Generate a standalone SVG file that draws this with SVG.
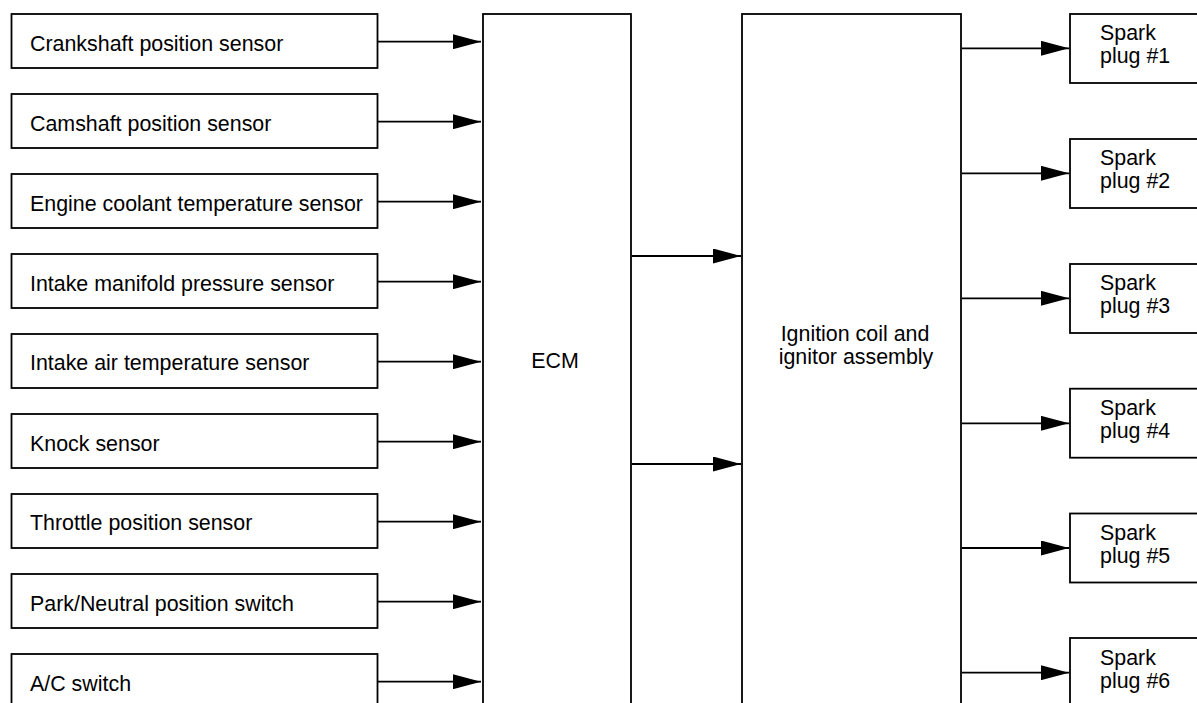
<svg xmlns="http://www.w3.org/2000/svg" width="1197" height="703" viewBox="0 0 1197 703">
<style>
  .box { fill: #fff; stroke: #000; stroke-width: 1.8; }
  .lbl { font-family: "Liberation Sans", Arial, sans-serif; font-size: 21.4px; fill: #000; }
  .mid { text-anchor: middle; }
  .wire { stroke: #000; stroke-width: 1.8; fill: none; marker-end: url(#ah); }
</style>
<defs>
  <marker id="ah" viewBox="0 0 28 15" refX="28" refY="7.5" markerWidth="28" markerHeight="15" markerUnits="userSpaceOnUse" orient="auto">
    <path d="M0,0 L28,7.5 L0,15 z" fill="#000"/>
  </marker>
</defs>
<rect width="1197" height="703" fill="#fff"/>

<g id="sensor1"><rect class="box" x="11.5" y="14" width="366" height="54"/><text class="lbl" x="30" y="51">Crankshaft position sensor</text></g>
<g id="sensor2"><rect class="box" x="11.5" y="94" width="366" height="54"/><text class="lbl" x="30" y="131">Camshaft position sensor</text></g>
<g id="sensor3"><rect class="box" x="11.5" y="174" width="366" height="54"/><text class="lbl" x="30" y="211">Engine coolant temperature sensor</text></g>
<g id="sensor4"><rect class="box" x="11.5" y="254" width="366" height="54"/><text class="lbl" x="30" y="290.5">Intake manifold pressure sensor</text></g>
<g id="sensor5"><rect class="box" x="11.5" y="334" width="366" height="54"/><text class="lbl" x="30" y="370">Intake air temperature sensor</text></g>
<g id="sensor6"><rect class="box" x="11.5" y="414" width="366" height="54"/><text class="lbl" x="30" y="450.5">Knock sensor</text></g>
<g id="sensor7"><rect class="box" x="11.5" y="494" width="366" height="54"/><text class="lbl" x="30" y="530">Throttle position sensor</text></g>
<g id="sensor8"><rect class="box" x="11.5" y="574" width="366" height="54"/><text class="lbl" x="30" y="610.5">Park/Neutral position switch</text></g>
<g id="sensor9"><rect class="box" x="11.5" y="654" width="366" height="54"/><text class="lbl" x="30" y="690.5">A/C switch</text></g>

<g id="ecm"><rect class="box" x="483" y="14" width="148" height="720"/><text class="lbl mid" x="555" y="368">ECM</text></g>

<g id="ignition"><rect class="box" x="742" y="14" width="219" height="720"/>
  <text class="lbl mid" x="855" y="340.5">Ignition coil and</text>
  <text class="lbl mid" x="856" y="364">ignitor assembly</text></g>

<g id="plug1"><rect class="box" x="1070" y="14" width="140" height="69"/><text class="lbl" x="1100" y="40">Spark</text><text class="lbl" x="1100" y="63.3">plug #1</text></g>
<g id="plug2"><rect class="box" x="1070" y="139" width="140" height="69"/><text class="lbl" x="1100" y="165">Spark</text><text class="lbl" x="1100" y="188.3">plug #2</text></g>
<g id="plug3"><rect class="box" x="1070" y="264" width="140" height="69"/><text class="lbl" x="1100" y="289.5">Spark</text><text class="lbl" x="1100" y="312.5">plug #3</text></g>
<g id="plug4"><rect class="box" x="1070" y="388.7" width="140" height="69"/><text class="lbl" x="1100" y="414.5">Spark</text><text class="lbl" x="1100" y="437.5">plug #4</text></g>
<g id="plug5"><rect class="box" x="1070" y="513.5" width="140" height="69"/><text class="lbl" x="1100" y="539.5">Spark</text><text class="lbl" x="1100" y="562.5">plug #5</text></g>
<g id="plug6"><rect class="box" x="1070" y="638" width="140" height="69"/><text class="lbl" x="1100" y="665">Spark</text><text class="lbl" x="1100" y="688">plug #6</text></g>

<g id="connectors">
  <line class="wire" x1="378" y1="41.7" x2="481" y2="41.7"/>
  <line class="wire" x1="378" y1="121.7" x2="481" y2="121.7"/>
  <line class="wire" x1="378" y1="201.7" x2="481" y2="201.7"/>
  <line class="wire" x1="378" y1="281.7" x2="481" y2="281.7"/>
  <line class="wire" x1="378" y1="361.7" x2="481" y2="361.7"/>
  <line class="wire" x1="378" y1="441.7" x2="481" y2="441.7"/>
  <line class="wire" x1="378" y1="521.7" x2="481" y2="521.7"/>
  <line class="wire" x1="378" y1="601.7" x2="481" y2="601.7"/>
  <line class="wire" x1="378" y1="681.7" x2="481" y2="681.7"/>
  <line class="wire" x1="632" y1="256" x2="741" y2="256"/>
  <line class="wire" x1="632" y1="464" x2="741" y2="464"/>
  <line class="wire" x1="962" y1="48.3" x2="1069" y2="48.3"/>
  <line class="wire" x1="962" y1="173.3" x2="1069" y2="173.3"/>
  <line class="wire" x1="962" y1="298.3" x2="1069" y2="298.3"/>
  <line class="wire" x1="962" y1="423.3" x2="1069" y2="423.3"/>
  <line class="wire" x1="962" y1="548" x2="1069" y2="548"/>
  <line class="wire" x1="962" y1="672.7" x2="1069" y2="672.7"/>
</g>
</svg>
